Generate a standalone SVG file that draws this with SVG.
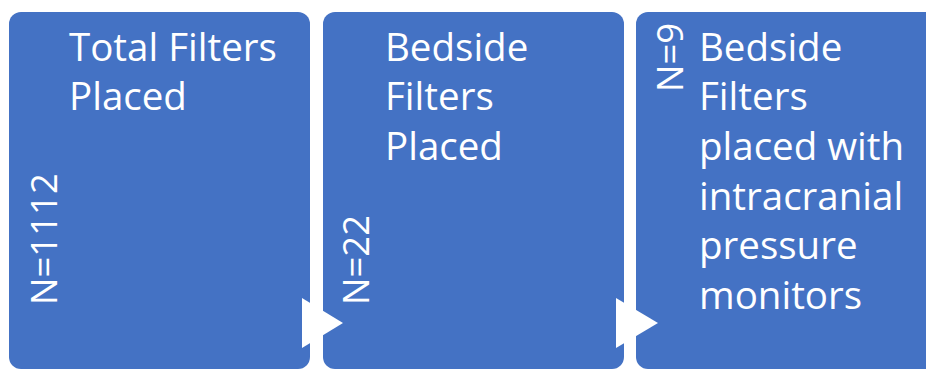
<svg xmlns="http://www.w3.org/2000/svg" width="926" height="370" viewBox="0 0 926 370">
<style>
.box{fill:#4472C4;}
.t{font-family:"Open Sans","Liberation Sans",sans-serif;font-size:38.5px;fill:#FFFFFF;}
.n{font-family:"Open Sans","Liberation Sans",sans-serif;font-size:36.5px;fill:#FFFFFF;}
.arr{fill:#FFFFFF;}
</style>
<rect width="926" height="370" fill="#FFFFFF"/>
<g id="node1">
<rect class="box" x="9" y="12" width="301" height="357" rx="12"/>
<text class="t" x="69" y="61">Total Filters</text>
<text class="t" x="69" y="110">Placed</text>
<text class="n" transform="translate(57,305) rotate(-90)">N=1112</text>
</g>
<g id="node2">
<rect class="box" x="323" y="12" width="301" height="357" rx="12"/>
<text class="t" x="385" y="61">Bedside</text>
<text class="t" x="385" y="110">Filters</text>
<text class="t" x="385" y="160">Placed</text>
<text class="n" transform="translate(369,305) rotate(-90)">N=22</text>
</g>
<g id="node3">
<rect class="box" x="636" y="12" width="320" height="357" rx="12"/>
<text class="t" x="699" y="61">Bedside</text>
<text class="t" x="699" y="110">Filters</text>
<text class="t" x="699" y="160">placed with</text>
<text class="t" x="699" y="210">intracranial</text>
<text class="t" x="699" y="259">pressure</text>
<text class="t" x="699" y="309">monitors</text>
<text class="n" transform="translate(683,92) rotate(-90)">N=9</text>
</g>
<g id="connectors">
<polygon class="arr" points="302,298 343,323 302,348"/>
<polygon class="arr" points="616,298 658,323 616,348"/>
</g>
</svg>
